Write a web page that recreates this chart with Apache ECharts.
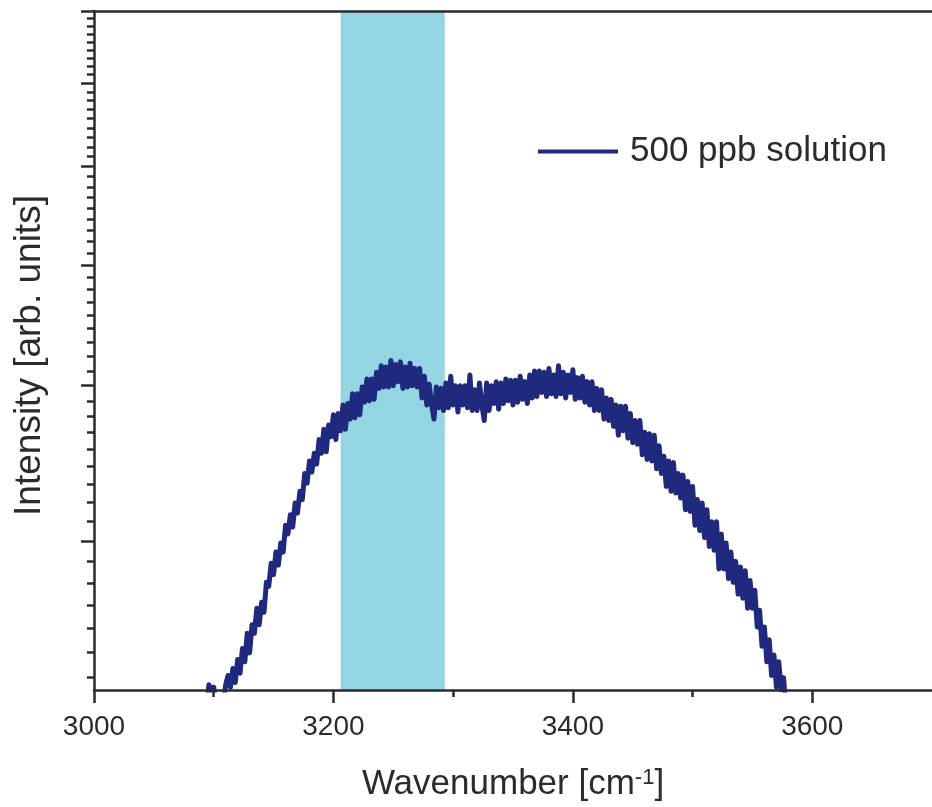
<!DOCTYPE html>
<html>
<head>
<meta charset="utf-8">
<script src="https://cdn.jsdelivr.net/npm/echarts@6/dist/echarts.min.js"></script>
<style>
  html, body { margin: 0; padding: 0; background: #ffffff; }
  #chart { width: 932px; height: 807px; }
</style>
</head>
<body>
<div id="chart"></div>
<script>
// Spectrum of the 500 ppb solution, sampled every 2 cm^-1
const wavenumberStart = 3090;
const wavenumberStep = 2;
const intensity = [
  2.15, 2.17, 2.20, 2.30, 2.27, 2.29, 2.21, 2.16, 2.15, 2.22,
  2.30, 2.34, 2.29, 2.37, 2.31, 2.41, 2.35, 2.46, 2.40, 2.53,
  2.44, 2.57, 2.53, 2.65, 2.57, 2.68, 2.63, 2.78, 2.76, 2.88,
  2.82, 2.94, 2.87, 2.99, 2.94, 3.09, 3.04, 3.15, 3.08, 3.22,
  3.16, 3.29, 3.24, 3.40, 3.34, 3.48, 3.41, 3.53, 3.46, 3.62,
  3.53, 3.69, 3.54, 3.72, 3.64, 3.79, 3.62, 3.80, 3.68, 3.86,
  3.69, 3.87, 3.76, 3.94, 3.77, 3.94, 3.79, 3.99, 3.88, 4.05,
  3.89, 4.05, 3.90, 4.10, 3.98, 4.15, 3.99, 4.14, 3.99, 4.19,
  4.00, 4.16, 4.03, 4.18, 3.98, 4.14, 3.99, 4.17, 4.00, 4.13,
  3.99, 4.13, 3.91, 4.07, 3.86, 4.01, 3.86, 3.76, 3.99, 3.84,
  3.98, 3.82, 4.02, 3.84, 4.07, 3.86, 4.00, 3.81, 4.00, 3.86,
  4.00, 3.84, 4.08, 3.82, 3.97, 3.82, 4.02, 3.86, 3.75, 4.02,
  3.82, 4.00, 3.87, 4.03, 3.83, 4.02, 3.87, 4.05, 3.89, 4.04,
  3.86, 4.04, 3.88, 4.07, 3.90, 4.03, 3.87, 4.08, 3.91, 4.11,
  3.92, 4.11, 3.95, 4.10, 3.92, 4.13, 3.94, 4.08, 3.92, 4.15,
  3.94, 4.10, 3.91, 4.08, 3.95, 4.12, 3.90, 4.06, 3.91, 4.07,
  3.88, 4.03, 3.86, 4.03, 3.82, 3.98, 3.82, 3.97, 3.76, 3.91,
  3.75, 3.90, 3.71, 3.86, 3.65, 3.85, 3.68, 3.85, 3.63, 3.80,
  3.60, 3.75, 3.59, 3.75, 3.52, 3.67, 3.49, 3.66, 3.48, 3.65,
  3.43, 3.58, 3.40, 3.51, 3.32, 3.48, 3.29, 3.47, 3.28, 3.40,
  3.25, 3.39, 3.18, 3.35, 3.17, 3.32, 3.09, 3.24, 3.06, 3.22,
  3.02, 3.18, 2.97, 3.11, 2.95, 3.11, 2.85, 3.04, 2.85, 2.99,
  2.80, 2.94, 2.78, 2.89, 2.72, 2.86, 2.70, 2.84, 2.65, 2.79,
  2.65, 2.74, 2.56, 2.64, 2.47, 2.56, 2.40, 2.50, 2.34, 2.43,
  2.29, 2.40, 2.28, 2.33, 2.20, 2.15
];

const seriesName = '500 ppb solution';
const xRange = [3000, 3700];
const xMajorTicks = [3000, 3200, 3400, 3600];
const xMinorTicks = [3100, 3300, 3500];
const yRange = [2.278, 8];
const yMajorTicks = [3, 4, 5, 6, 7, 8];
const yMinorSubdivisions = 9;
const highlightBand = [3206, 3293];

// intensity axis is logarithmic: plot ln(I) on a linear value axis
const ln = Math.log;
const yMinorTicks = [];
for (let i = 0; i < yMajorTicks.length - 1; i++) {
  const step = (yMajorTicks[i + 1] - yMajorTicks[i]) / yMinorSubdivisions;
  for (let k = 1; k < yMinorSubdivisions; k++) yMinorTicks.push(yMajorTicks[i] + k * step);
}
{
  const step = (yMajorTicks[1] - yMajorTicks[0]) / yMinorSubdivisions;
  for (let k = 1; k < yMinorSubdivisions; k++) {
    const v = yMajorTicks[0] - k * step;
    if (v > yRange[0]) yMinorTicks.push(v);
  }
}

const seriesData = intensity.map((v, i) => [wavenumberStart + i * wavenumberStep, ln(v)]);

const fontFamily = '"Liberation Sans", Arial, Helvetica, sans-serif';
const axisColor = '#2b2b2b';
const textColor = '#2b2b2b';
const axisWidth = 2.5;
const traceColor = '#1f2a7e';

const hiddenLabel = { show: false };
const noSplit = { show: false };

const chart = echarts.init(document.getElementById('chart'), null, { renderer: 'canvas' });
chart.setOption({
  backgroundColor: '#ffffff',
  animation: false,
  grid: { left: 94, top: 11, right: -7, bottom: 116, containLabel: false },
  legend: {
    data: [{ name: seriesName, icon: 'rect' }],
    left: 538,
    top: 134,
    padding: 0,
    itemWidth: 80,
    itemHeight: 4,
    selectedMode: false,
    textStyle: { fontSize: 35, color: textColor, fontFamily: fontFamily, padding: [0, 0, 0, 7] }
  },
  xAxis: [
    {
      type: 'value', position: 'bottom', min: xRange[0], max: xRange[1], z: 5,
      axisLine: { show: true, onZero: false, lineStyle: { color: axisColor, width: axisWidth } },
      axisTick: { show: true, customValues: xMajorTicks, length: 13, lineStyle: { color: axisColor, width: axisWidth } },
      axisLabel: {
        show: true, customValues: xMajorTicks, margin: 23, fontSize: 28, color: textColor, fontFamily: fontFamily,
        formatter: (v) => String(v)
      },
      splitLine: noSplit,
      name: '{a|Wavenumber [cm}{s|-1}{a|]}',
      nameLocation: 'middle',
      nameGap: 77,
      nameTextStyle: {
        color: textColor, fontFamily: fontFamily,
        rich: {
          a: { fontSize: 35, color: textColor, fontFamily: fontFamily },
          s: { fontSize: 22, color: textColor, fontFamily: fontFamily, verticalAlign: 'top' }
        }
      }
    },
    {
      type: 'value', position: 'bottom', min: xRange[0], max: xRange[1], z: 5,
      axisLine: { show: false, onZero: false },
      axisTick: { show: true, customValues: xMinorTicks, length: 7, lineStyle: { color: axisColor, width: axisWidth } },
      axisLabel: hiddenLabel,
      splitLine: noSplit
    },
    {
      type: 'value', position: 'top', min: xRange[0], max: xRange[1], z: 5,
      axisLine: { show: true, onZero: false, lineStyle: { color: axisColor, width: axisWidth } },
      axisTick: { show: false },
      axisLabel: hiddenLabel,
      splitLine: noSplit
    }
  ],
  yAxis: [
    {
      type: 'value', position: 'left', min: ln(yRange[0]), max: ln(yRange[1]), z: 5,
      axisLine: { show: true, onZero: false, lineStyle: { color: axisColor, width: axisWidth } },
      axisTick: { show: true, customValues: yMajorTicks.map(ln), length: 13, lineStyle: { color: axisColor, width: axisWidth } },
      axisLabel: hiddenLabel,
      splitLine: noSplit,
      name: 'Intensity [arb. units]',
      nameLocation: 'middle',
      nameGap: 46,
      nameTextStyle: { fontSize: 37, color: textColor, fontFamily: fontFamily, padding: [0, 10, 0, 0] }
    },
    {
      type: 'value', position: 'left', min: ln(yRange[0]), max: ln(yRange[1]), z: 5,
      axisLine: { show: false, onZero: false },
      axisTick: { show: true, customValues: yMinorTicks.map(ln), length: 7, lineStyle: { color: axisColor, width: axisWidth } },
      axisLabel: hiddenLabel,
      splitLine: noSplit
    }
  ],
  series: [
    {
      name: seriesName,
      type: 'line',
      xAxisIndex: 0,
      yAxisIndex: 0,
      data: seriesData,
      showSymbol: false,
      symbol: 'none',
      clip: true,
      color: traceColor,
      lineStyle: { color: traceColor, width: 5, join: 'round' },
      z: 3,
      markArea: {
        silent: true,
        z: 1,
        itemStyle: { color: '#94d5e3', opacity: 1 },
        data: [[{ xAxis: highlightBand[0] }, { xAxis: highlightBand[1] }]]
      }
    }
  ]
});
</script>
</body>
</html>
